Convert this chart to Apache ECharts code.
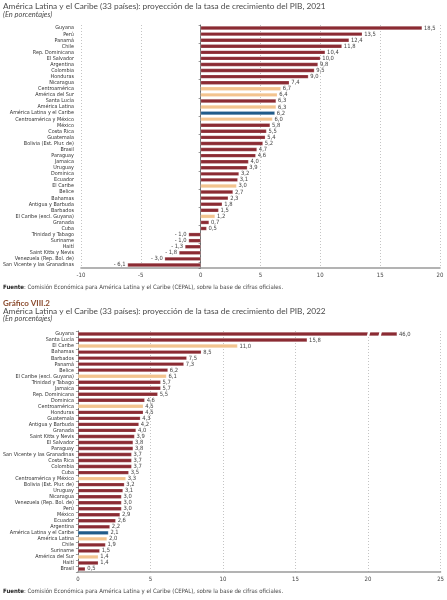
<!DOCTYPE html>
<html><head><meta charset="utf-8">
<script src="https://cdn.jsdelivr.net/npm/echarts@6/dist/echarts.min.js"></script>
<style>html,body{margin:0;padding:0;background:#fff}#c{width:447px;height:600px}</style>
</head><body><div id="c"></div>
<script>
// ---------- DATA ----------
const cats2021 = ["Guyana","Perú","Panamá","Chile","Rep. Dominicana","El Salvador","Argentina","Colombia","Honduras","Nicaragua","Centroamérica","América del Sur","Santa Lucía","América Latina","América Latina y el Caribe","Centroamérica y México","México","Costa Rica","Guatemala","Bolivia (Est. Plur. de)","Brasil","Paraguay","Jamaica","Uruguay","Dominica","Ecuador","El Caribe","Belice","Bahamas","Antigua y Barbuda","Barbados","El Caribe (excl. Guyana)","Granada","Cuba","Trinidad y Tabago","Suriname","Haití","Saint Kitts y Nevis","Venezuela (Rep. Bol. de)","San Vicente y las Granadinas"];
const vals2021 = [18.5,13.5,12.4,11.8,10.4,10.0,9.8,9.5,9.0,7.4,6.7,6.4,6.3,6.3,6.2,6.0,5.8,5.5,5.4,5.2,4.7,4.6,4.0,3.9,3.2,3.1,3.0,2.7,2.3,1.8,1.5,1.2,0.7,0.5,-1.0,-1.0,-1.3,-1.8,-3.0,-6.1];

const cats2022 = ["Guyana","Santa Lucía","El Caribe","Bahamas","Barbados","Panamá","Belice","El Caribe (excl. Guyana)","Trinidad y Tabago","Jamaica","Rep. Dominicana","Dominica","Centroamérica","Honduras","Guatemala","Antigua y Barbuda","Granada","Saint Kitts y Nevis","El Salvador","Paraguay","San Vicente y las Granadinas","Costa Rica","Colombia","Cuba","Centroamérica y México","Bolivia (Est. Plur. de)","Uruguay","Nicaragua","Venezuela (Rep. Bol. de)","Perú","México","Ecuador","Argentina","América Latina y el Caribe","América Latina","Chile","Suriname","América del Sur","Haití","Brasil"];
const vals2022 = [46.0,15.8,11.0,8.5,7.5,7.3,6.2,6.1,5.7,5.7,5.5,4.6,4.5,4.5,4.3,4.2,4.0,3.9,3.8,3.8,3.7,3.7,3.7,3.5,3.3,3.2,3.1,3.0,3.0,3.0,2.9,2.6,2.2,2.1,2.0,1.9,1.5,1.4,1.4,0.5];

const subregions = ["Centroamérica","América del Sur","América Latina","Centroamérica y México","El Caribe","El Caribe (excl. Guyana)"];
const regionTotal = "América Latina y el Caribe";

const ticks2021 = [-10,-5,0,5,10,15,20];
const ticks2022 = [0,5,10,15,20,25];
const breakAt2022 = 22; // broken bar is drawn up to this axis value

// ---------- STYLE ----------
const C_DARK = '#8b2b33', C_LIGHT = '#f3c48f', C_BLUE = '#205b8a';
const NARROW = "'Liberation Sans Narrow','DejaVu Sans Condensed',sans-serif";
const SANS = "Lato,'Open Sans',sans-serif";
const fmt = v => (v < 0 ? '- ' : '') + Math.abs(v).toFixed(1).replace('.', ',');

function colorOf(c){ return c === regionTotal ? C_BLUE : (subregions.includes(c) ? C_LIGHT : C_DARK); }

function barData(cats, vals, cap){
  return vals.map((v,i)=>({
    value: (cap !== undefined && v > cap) ? cap : v,
    real: v,
    itemStyle:{color: colorOf(cats[i])},
    label:{position: v < 0 ? 'left' : 'right'}
  }));
}

const labelCommon = {show:true, fontSize:5.8, fontFamily:NARROW, color:'#444', distance:2,
  formatter: p => fmt(p.data.real)};

const xTickFmt = v => String(v);

const chart = echarts.init(document.getElementById('c'), null, {renderer:'canvas'});
const option = {
  backgroundColor:'#fff',
  animation:false,
  grid:[
    {left:80, right:7, top:25, height:243},
    {left:77, right:6, top:331, height:241}
  ],
  xAxis:[
    {gridIndex:0, type:'value', min:ticks2021[0], max:ticks2021[ticks2021.length-1], interval:5,
     axisLine:{show:true, onZero:false, lineStyle:{color:'#9a9a9a', width:1.5}},
     axisTick:{show:false},
     axisLabel:{fontSize:6, fontFamily:NARROW, color:'#444', margin:4, formatter:xTickFmt},
     splitLine:{show:true, lineStyle:{color:'#b5b5b5', type:[1,2], width:0.8}}},
    {gridIndex:1, type:'value', min:ticks2022[0], max:ticks2022[ticks2022.length-1], interval:5,
     axisLine:{show:true, onZero:false, lineStyle:{color:'#9a9a9a', width:1.5}},
     axisTick:{show:false},
     axisLabel:{fontSize:6, fontFamily:NARROW, color:'#444', margin:4, formatter:xTickFmt},
     splitLine:{show:true, lineStyle:{color:'#b5b5b5', type:[1,2], width:0.8}}}
  ],
  yAxis:[
    {gridIndex:0, type:'category', data:cats2021, inverse:true, position:'left',
     axisLine:{show:false, onZero:false}, axisTick:{show:false},
     axisLabel:{fontSize:5.4, fontFamily:NARROW, color:'#333', margin:7, interval:0}},
    {gridIndex:0, type:'category', data:cats2021, inverse:true, position:'left',
     axisLine:{show:true, onZero:true, lineStyle:{color:'#555', width:0.8}},
     axisTick:{show:true, length:2, lineStyle:{color:'#555', width:0.6}},
     axisLabel:{show:false}},
    {gridIndex:1, type:'category', data:cats2022, inverse:true, position:'left',
     axisLine:{show:true, onZero:false, lineStyle:{color:'#555', width:0.8}},
     axisTick:{show:true, length:2, lineStyle:{color:'#555', width:0.6}},
     axisLabel:{fontSize:5.4, fontFamily:NARROW, color:'#333', margin:4, interval:0}}
  ],
  series:[
    {type:'bar', xAxisIndex:0, yAxisIndex:0, barWidth:3.8,
     data:barData(cats2021, vals2021), label:labelCommon,
     itemStyle:{borderColor:'rgba(255,255,255,0.5)', borderWidth:0.4}},
    {type:'bar', xAxisIndex:1, yAxisIndex:2, barWidth:3.8,
     data:barData(cats2022, vals2022, breakAt2022), label:labelCommon,
     itemStyle:{borderColor:'rgba(255,255,255,0.5)', borderWidth:0.4}}
  ]
};
chart.setOption(option);

// text blocks
function txt(x,y,text,style){
  return {type:'text', x:x, y:y, style:Object.assign({text:text, verticalAlign:'middle', fill:'#4a4a4a', font:'8.3px '+SANS}, style||{})};
}
const fuente = {type:'text', style:{text:'{b|Fuente}: Comisión Económica para América Latina y el Caribe (CEPAL), sobre la base de cifras oficiales.',
  verticalAlign:'middle', fill:'#444', fontSize:6, fontFamily:NARROW,
  rich:{b:{fontWeight:'bold', fontSize:6, fontFamily:NARROW, fill:'#222'}}}};

const graphics = [
  txt(3,6,'América Latina y el Caribe (33 países): proyección de la tasa de crecimiento del PIB, 2021'),
  txt(3,15,'(En porcentajes)',{font:'italic 7.5px '+SANS}),
  Object.assign({x:3,y:287}, fuente),
  txt(3,303,'Gráfico VIII.2',{font:'bold 8px '+SANS, fill:'#8a4a2c'}),
  txt(3,311,'América Latina y el Caribe (33 países): proyección de la tasa de crecimiento del PIB, 2022'),
  txt(3,319,'(En porcentajes)',{font:'italic 7.5px '+SANS}),
  Object.assign({x:3,y:591}, JSON.parse(JSON.stringify(fuente)))
];

// break marks on the capped bar (positions from the axis scale)
vals2022.forEach((v,i)=>{
  if (v > breakAt2022) {
    [20.0, 20.8].forEach(xv=>{
      const p = chart.convertToPixel({gridIndex:1}, [xv, cats2022[i]]);
      graphics.push({type:'polygon', shape:{points:[[p[0]-1.5,p[1]+3],[p[0]+1,p[1]+3],[p[0]+2.5,p[1]-3],[p[0],p[1]-3]]},
        style:{fill:'#fff'}, z:100});
    });
  }
});
chart.setOption({graphic:graphics});
</script>
</body></html>
